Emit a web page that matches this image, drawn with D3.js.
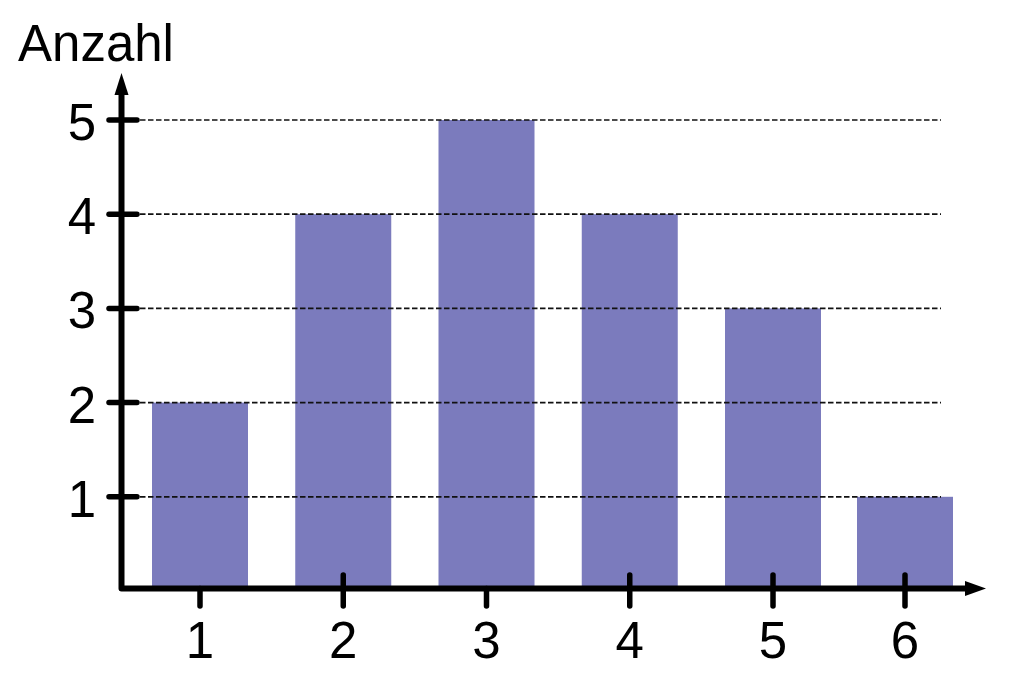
<!DOCTYPE html>
<html><head><meta charset="utf-8">
<script src="https://cdn.jsdelivr.net/npm/d3@7"></script>
<style>html,body{margin:0;padding:0;background:#fff}svg{display:block}</style>
</head><body>
<svg id="c" width="1014" height="686"></svg>
<script>
const categories = [1, 2, 3, 4, 5, 6];
const counts = [2, 4, 5, 4, 3, 1];
const yTicks = [1, 2, 3, 4, 5];
const yLabel = "Anzahl";

const svg = d3.select("#c");
const font = "'Liberation Sans', Arial, sans-serif";
const x = d3.scaleLinear().domain([1, 5, 6]).range([200, 773, 905]);
const y = d3.scaleLinear().domain([0, 5]).range([591, 120]);
const axisX = 121.5, axisY = 588.5;
const barW = 96;

// bars
svg.append("g").selectAll("rect").data(categories).join("rect")
  .attr("x", d => x(d) - barW / 2)
  .attr("width", barW)
  .attr("y", (d, i) => y(counts[i]))
  .attr("height", (d, i) => axisY - y(counts[i]))
  .attr("fill", "#7b7bbd");

// gridlines
svg.append("g").selectAll("line").data(yTicks).join("line")
  .attr("x1", 140).attr("x2", 941)
  .attr("y1", d => y(d)).attr("y2", d => y(d))
  .attr("stroke", "#111").attr("stroke-width", 1.7)
  .attr("stroke-dasharray", "5.5,2.5");

// axes (single path with round join)
svg.append("path")
  .attr("d", `M${axisX},88 L${axisX},${axisY} L970,${axisY}`)
  .attr("fill", "none").attr("stroke", "#000").attr("stroke-width", 6)
  .attr("stroke-linejoin", "round");
// arrows
svg.append("path").attr("d", `M${axisX},73 L${axisX + 7},95 L${axisX - 7},95 Z`).attr("fill", "#000");
svg.append("path").attr("d", `M986,${axisY} L965,${axisY - 7.5} L965,${axisY + 7.5} Z`).attr("fill", "#000");

// y ticks
svg.append("g").selectAll("line").data(yTicks).join("line")
  .attr("x1", 109).attr("x2", 137)
  .attr("y1", d => y(d)).attr("y2", d => y(d))
  .attr("stroke", "#000").attr("stroke-width", 5.5).attr("stroke-linecap", "round");
svg.append("g").selectAll("text").data(yTicks).join("text")
  .attr("x", 96).attr("y", d => y(d) + 20)
  .attr("text-anchor", "end")
  .attr("font-family", font).attr("font-size", 51)
  .text(d => d);

// x ticks
const crossing = [false, true, false, true, true, true];
svg.append("g").selectAll("line").data(categories).join("line")
  .attr("x1", d => x(d)).attr("x2", d => x(d))
  .attr("y1", (d, i) => crossing[i] ? 575 : axisY).attr("y2", 606)
  .attr("stroke", "#000").attr("stroke-width", 5.5).attr("stroke-linecap", "round");
svg.append("g").selectAll("text").data(categories).join("text")
  .attr("x", d => x(d)).attr("y", 658)
  .attr("text-anchor", "middle")
  .attr("font-family", font).attr("font-size", 51)
  .text(d => d);

// y label
svg.append("text").attr("x", 18).attr("y", 61)
  .attr("font-family", font).attr("font-size", 51)
  .text(yLabel);
</script>
</body></html>
